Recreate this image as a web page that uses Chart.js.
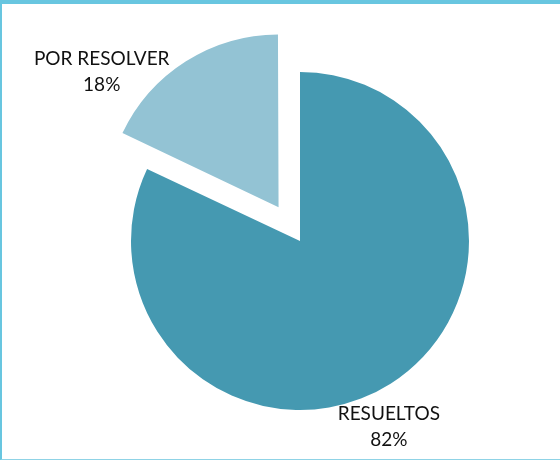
<!DOCTYPE html>
<html>
<head>
<meta charset="utf-8">
<script src="https://cdn.jsdelivr.net/npm/chart.js@4"></script>
<style>
    html, body {
        margin: 0;
        padding: 0;
        background: #fff;
    }
    #wrap {
        position: relative;
        width: 560px;
        height: 460px;
        box-sizing: border-box;
        border-top: 4px solid #68c6e0;
        border-left: 2px solid #68c6e0;
        border-bottom: 1px solid #8fd3e6;
    }
    #myChart {
        position: absolute;
        left: -2px;
        top: -4px;
    }
</style>
</head>
<body>
<div id="wrap">
    <canvas id="myChart" width="560" height="460"></canvas>
</div>
<script>
const labels = ['RESUELTOS', 'POR RESOLVER'];
const values = [82, 18];
const percents = ['82%', '18%'];

const colors = ['#4599b1', '#93c3d4'];

// label box nudges relative to the mid-angle anchor
const labelShift = [[-21, 13], [-67, 38]];

const outsideLabels = {
    id: 'outsideLabels',
    afterDatasetsDraw(chart) {
        const ctx = chart.ctx;
        const meta = chart.getDatasetMeta(0);
        ctx.save();
        ctx.font = '19px Lato';
        ctx.fillStyle = '#111';
        ctx.textAlign = 'center';
        ctx.textBaseline = 'middle';
        meta.data.forEach((arc, i) => {
            const p = arc.getProps(['x', 'y', 'startAngle', 'endAngle', 'outerRadius']);
            const mid = (p.startAngle + p.endAngle) / 2;
            // chart.js v4 moves an arc by offset / 4
            const off = (arc.options.offset || 0) / 4;
            const d = p.outerRadius + 36;
            const x = p.x + Math.cos(mid) * (d + off) + labelShift[i][0];
            const y = p.y + Math.sin(mid) * (d + off) + labelShift[i][1];
            ctx.fillText(labels[i], x, y - 13);
            ctx.fillText(percents[i], x, y + 13);
        });
        ctx.restore();
    }
};

var ctx = document.getElementById('myChart').getContext('2d');

var myChart = new Chart(ctx, {
    type: 'pie',
    data: {
        labels: labels,
        datasets: [
            {
                data: values,
                backgroundColor: colors,
                borderWidth: 0,
                offset: [0, 160]
            }
        ]
    },
    options: {
        responsive: false,
        animation: false,
        radius: 169,
        layout: {
            padding: { left: 60, right: 20, top: 30, bottom: 8 }
        },
        plugins: {
            legend: { display: false },
            tooltip: { enabled: false }
        }
    },
    plugins: [outsideLabels]
});
</script>
</body>
</html>
